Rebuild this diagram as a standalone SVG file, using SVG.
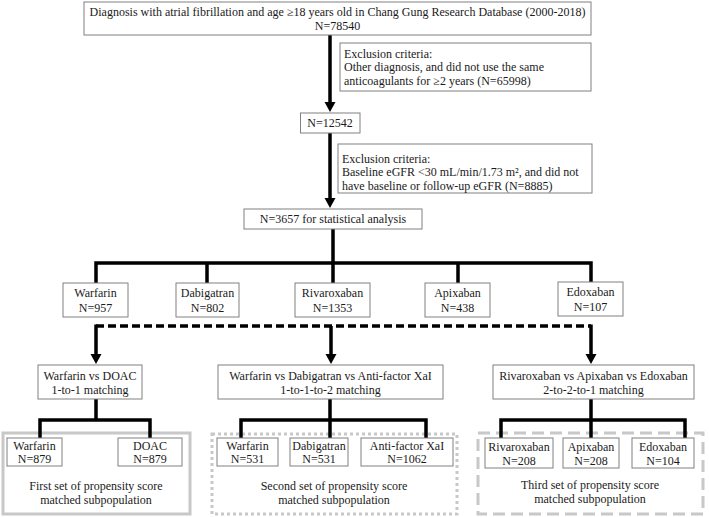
<svg xmlns="http://www.w3.org/2000/svg" width="709" height="517" viewBox="0 0 709 517">
<style>
text{font-family:"Liberation Serif","Times New Roman",serif;font-size:12px;fill:#1a1a1a}
.c{text-anchor:middle}
.box{fill:#fff;stroke:#808080;stroke-width:1}
.ln{stroke:#000;stroke-width:3.5;fill:none}
.dash{stroke:#000;stroke-width:3.5;fill:none;stroke-dasharray:8 4}
.g1{fill:none;stroke:#c8c8c8;stroke-width:3}
.g2{fill:none;stroke:#c8c8c8;stroke-width:3;stroke-dasharray:3 3}
.g3{fill:none;stroke:#c8c8c8;stroke-width:3;stroke-dasharray:12 6}
</style>
<defs>
<marker id="ah" markerUnits="userSpaceOnUse" markerWidth="12" markerHeight="12" refX="1" refY="5.5" orient="auto">
<path d="M0,0 L10,5.5 L0,11 z" fill="#000"/>
</marker>
</defs>
<g id="groups">
<rect class="g1" x="3" y="433" width="187" height="81"/>
<rect class="g2" x="212" y="434" width="245" height="80"/>
<rect class="g3" x="478" y="433" width="225" height="81"/>
</g>
<g id="connectors">
<line class="ln" x1="330" y1="35" x2="330" y2="103" marker-end="url(#ah)"/>
<line class="ln" x1="330" y1="133" x2="330" y2="199" marker-end="url(#ah)"/>
<path class="ln" d="M333,229 V263 M96,283 V263 H591 V283 M207,263 V283 M333,263 V283 M458,263 V283"/>
<line class="dash" x1="96" y1="326" x2="591" y2="326"/>
<line class="ln" x1="96" y1="324.5" x2="96" y2="355" marker-end="url(#ah)"/>
<line class="ln" x1="331" y1="326" x2="331" y2="355" marker-end="url(#ah)"/>
<line class="ln" x1="591" y1="324.5" x2="591" y2="355" marker-end="url(#ah)"/>
<path class="ln" d="M96,399 V420 M40,438 V420 H150 V438"/>
<path class="ln" d="M330,399 V438 M241,438 V420 H426 V438"/>
<path class="ln" d="M591,399 V438 M501,438 V420 H685 V438"/>
</g>
<g id="n-top">
<rect class="box" x="84" y="2" width="507" height="33"/>
<text class="c" x="337.5" y="16">Diagnosis with atrial fibrillation and age ≥18 years old in Chang Gung Research Database (2000-2018)</text>
<text class="c" x="337.5" y="30">N=78540</text>
</g>
<g id="n-excl1">
<rect class="box" x="340" y="43" width="251" height="48"/>
<text x="344" y="57.5">Exclusion criteria:</text>
<text x="344" y="71">Other diagnosis, and did not use the same</text>
<text x="344" y="84.5">anticoagulants for ≥2 years (N=65998)</text>
</g>
<g id="n-12542">
<rect class="box" x="300.5" y="113" width="59.5" height="20"/>
<text class="c" x="330" y="127">N=12542</text>
</g>
<g id="n-excl2">
<rect class="box" x="338" y="144" width="254" height="49"/>
<text x="342" y="162.5">Exclusion criteria:</text>
<text x="342" y="176">Baseline eGFR &lt;30 mL/min/1.73 m², and did not</text>
<text x="342" y="189.5">have baseline or follow-up eGFR (N=8885)</text>
</g>
<g id="n-3657">
<rect class="box" x="244" y="209" width="178" height="20"/>
<text class="c" x="333" y="223">N=3657 for statistical analysis</text>
</g>
<g id="n-warfarin">
<rect class="box" x="63" y="283" width="65" height="34"/>
<text class="c" x="95.5" y="297">Warfarin</text>
<text class="c" x="95.5" y="312">N=957</text>
</g>
<g id="n-dabigatran">
<rect class="box" x="176" y="283" width="63" height="34"/>
<text class="c" x="207.5" y="297">Dabigatran</text>
<text class="c" x="207.5" y="312">N=802</text>
</g>
<g id="n-rivaroxaban">
<rect class="box" x="295" y="283" width="75" height="34"/>
<text class="c" x="332.5" y="297">Rivaroxaban</text>
<text class="c" x="332.5" y="312">N=1353</text>
</g>
<g id="n-apixaban">
<rect class="box" x="425" y="283" width="65" height="34"/>
<text class="c" x="457.5" y="297">Apixaban</text>
<text class="c" x="457.5" y="312">N=438</text>
</g>
<g id="n-edoxaban">
<rect class="box" x="558" y="282" width="65" height="34"/>
<text class="c" x="590.5" y="296">Edoxaban</text>
<text class="c" x="590.5" y="311">N=107</text>
</g>
<g id="n-m1">
<rect class="box" x="38" y="365" width="104" height="34"/>
<text class="c" x="90" y="380">Warfarin vs DOAC</text>
<text class="c" x="90" y="394">1-to-1 matching</text>
</g>
<g id="n-m2">
<rect class="box" x="218" y="365" width="225" height="34"/>
<text class="c" x="330.5" y="380">Warfarin vs Dabigatran vs Anti-factor XaI</text>
<text class="c" x="330.5" y="394">1-to-1-to-2 matching</text>
</g>
<g id="n-m3">
<rect class="box" x="493" y="365" width="201" height="34"/>
<text class="c" x="593.5" y="380">Rivaroxaban vs Apixaban vs Edoxaban</text>
<text class="c" x="593.5" y="394">2-to-2-to-1 matching</text>
</g>
<g id="n-s1">
<rect class="box" x="7" y="438" width="55" height="28"/>
<text class="c" x="34.5" y="450">Warfarin</text>
<text class="c" x="34.5" y="463">N=879</text>
<rect class="box" x="118" y="438" width="64" height="28"/>
<text class="c" x="150" y="450">DOAC</text>
<text class="c" x="150" y="463">N=879</text>
<text class="c" x="96" y="490">First set of propensity score</text>
<text class="c" x="96" y="504">matched subpopulation</text>
</g>
<g id="n-s2">
<rect class="box" x="217" y="438" width="61" height="28"/>
<text class="c" x="247.5" y="450">Warfarin</text>
<text class="c" x="247.5" y="463">N=531</text>
<rect class="box" x="290" y="438" width="58" height="28"/>
<text class="c" x="319" y="450">Dabigatran</text>
<text class="c" x="319" y="463">N=531</text>
<rect class="box" x="361" y="438" width="92" height="28"/>
<text class="c" x="407" y="450">Anti-factor XaI</text>
<text class="c" x="407" y="463">N=1062</text>
<text class="c" x="334" y="490">Second set of propensity score</text>
<text class="c" x="334" y="504">matched subpopulation</text>
</g>
<g id="n-s3">
<rect class="box" x="485" y="438" width="68" height="30"/>
<text class="c" x="519" y="451">Rivaroxaban</text>
<text class="c" x="519" y="465">N=208</text>
<rect class="box" x="563" y="438" width="56" height="30"/>
<text class="c" x="591" y="451">Apixaban</text>
<text class="c" x="591" y="465">N=208</text>
<rect class="box" x="632" y="438" width="62" height="30"/>
<text class="c" x="663" y="451">Edoxaban</text>
<text class="c" x="663" y="465">N=104</text>
<text class="c" x="590" y="489">Third set of propensity score</text>
<text class="c" x="590" y="503">matched subpopulation</text>
</g>
</svg>
